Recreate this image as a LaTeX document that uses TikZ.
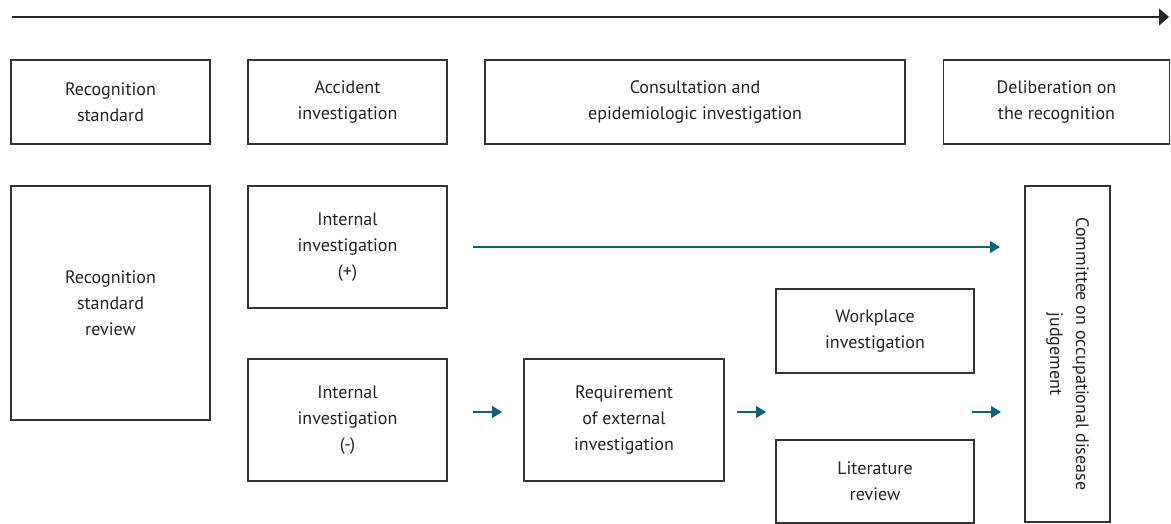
\documentclass[tikz,border=0pt]{standalone}
\usepackage{fontspec}
\setmainfont{PT Sans}
\usetikzlibrary{arrows.meta}
\definecolor{ln}{HTML}{333333}
\definecolor{tx}{HTML}{222222}
\definecolor{teal}{HTML}{0E6278}
\tikzset{
  box/.style={draw=ln, line width=1.2pt, align=center, text=tx, inner sep=0pt,
    font=\fontsize{18}{26}\selectfont},
  tarrow/.style={draw=teal, line width=1.3pt, -{Triangle[length=10pt,width=12pt]}},
  karrow/.style={draw=black!85, line width=1.3pt, -{Triangle[length=10pt,width=17pt]}}
}
\begin{document}
\begin{tikzpicture}[x=1pt,y=-1pt]
\useasboundingbox (0,0) rectangle (1171,524);
% timeline
\coordinate (t0) at (12,17);
\coordinate (t1) at (1169,17);
\draw[karrow] (t0) -- (t1);
% top row
\node[box, minimum width=199, minimum height=84] (rs) at (110.5,102) {Recognition\\standard};
\node[box, minimum width=199, minimum height=84] (ai) at (347.5,102) {Accident\\investigation};
\node[box, minimum width=420, minimum height=84] (ce) at (695,102) {Consultation and\\epidemiologic investigation};
\node[box, minimum width=226, minimum height=84] (dr) at (1056.5,102) {Deliberation on\\the recognition};
% body
\node[box, minimum width=199, minimum height=234] (rsr) at (110.5,303) {Recognition\\standard\\review};
\node[box, minimum width=199, minimum height=122] (iip) at (347.5,247) {Internal\\investigation\\(+)};
\node[box, minimum width=199, minimum height=122] (iim) at (347.5,420) {Internal\\investigation\\(-)};
\node[box, minimum width=200, minimum height=122] (rei) at (624,420) {Requirement\\of external\\investigation};
\node[box, minimum width=198, minimum height=84] (wi) at (875,331) {Workplace\\investigation};
\node[box, minimum width=198, minimum height=83] (lr) at (875,481.5) {Literature\\review};
\node[box, minimum width=85, minimum height=336] (com) at (1067.5,354) {};
\node[align=center, text=tx, rotate=-90, font=\fontsize{18}{26}\selectfont] (comt) at (com.center) {Committee on occupational disease\\judgement};
% arrows
\coordinate (a0) at (473,247);
\coordinate (a1) at (1000,247);
\draw[tarrow] (a0) -- (a1);
\coordinate (b0) at (473,412);
\coordinate (b1) at (502,412);
\draw[tarrow] (b0) -- (b1);
\coordinate (c0) at (737,412);
\coordinate (c1) at (766,412);
\draw[tarrow] (c0) -- (c1);
\coordinate (d0) at (972,412);
\coordinate (d1) at (1001,412);
\draw[tarrow] (d0) -- (d1);
\end{tikzpicture}
\end{document}
